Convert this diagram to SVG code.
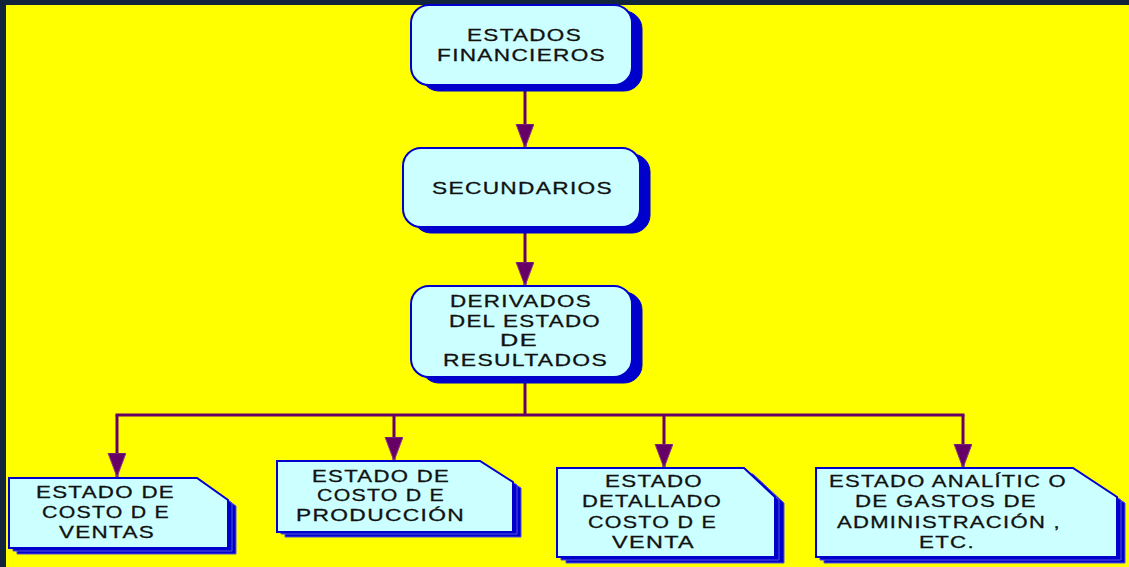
<svg xmlns="http://www.w3.org/2000/svg" width="1129" height="567" viewBox="0 0 1129 567">
<defs>
<style>
.bg{fill:#11243c}
.yl{fill:#ffff00}
.box{fill:#ccffff;stroke:#0000cc;stroke-width:2}
.sh{fill:#0000cc;stroke:#0000cc;stroke-width:1}
.sh2{fill:#0000cc;stroke:#5555dd;stroke-width:1}
.t{font-family:"Liberation Sans",Arial,sans-serif;font-size:17px;fill:#111;stroke:#111;stroke-width:0.3;text-anchor:middle;letter-spacing:1px}
.c{fill:none;stroke:#660066;stroke-width:3}
</style>
<marker id="ah" markerUnits="userSpaceOnUse" markerWidth="26" markerHeight="20" refX="24" refY="9" orient="auto" viewBox="0 0 26 20">
<path d="M0,0 L24,9 L0,18 z" fill="#660066" stroke="#8a3a8a" stroke-width="1"/>
</marker>
</defs>
<rect class="bg" x="0" y="0" width="1129" height="567"/>
<rect class="yl" x="6" y="5" width="1123" height="562"/>

<g id="connectors">
<line class="c" x1="525" y1="88" x2="525" y2="148" marker-end="url(#ah)"/>
<line class="c" x1="525" y1="230" x2="525" y2="286" marker-end="url(#ah)"/>
<line class="c" x1="525" y1="380" x2="525" y2="415"/>
<line class="c" x1="115.5" y1="415" x2="964.5" y2="415"/>
<line class="c" x1="117" y1="415" x2="117" y2="477" marker-end="url(#ah)"/>
<line class="c" x1="394" y1="415" x2="394" y2="461" marker-end="url(#ah)"/>
<line class="c" x1="664" y1="415" x2="664" y2="468" marker-end="url(#ah)"/>
<line class="c" x1="963" y1="415" x2="963" y2="468" marker-end="url(#ah)"/>
</g>

<g id="n1">
<rect class="sh" x="421" y="11" width="221" height="80" rx="18"/>
<rect class="box" x="411" y="5" width="221" height="80" rx="18"/>
<text class="t" x="524.5" y="41" textLength="115" lengthAdjust="spacingAndGlyphs">ESTADOS</text>
<text class="t" x="521.5" y="61" textLength="169" lengthAdjust="spacingAndGlyphs">FINANCIEROS</text>
</g>

<g id="n2">
<rect class="sh" x="413" y="154" width="237" height="79" rx="18"/>
<rect class="box" x="403" y="148" width="237" height="79" rx="18"/>
<text class="t" x="522.5" y="194" textLength="181" lengthAdjust="spacingAndGlyphs">SECUNDARIOS</text>
</g>

<g id="n3">
<rect class="sh" x="421" y="292" width="221" height="91" rx="18"/>
<rect class="box" x="411" y="286" width="221" height="91" rx="18"/>
<text class="t" x="521" y="307" textLength="142" lengthAdjust="spacingAndGlyphs">DERIVADOS</text>
<text class="t" x="525" y="327" textLength="152" lengthAdjust="spacingAndGlyphs">DEL ESTADO</text>
<text class="t" x="519" y="346" textLength="38" lengthAdjust="spacingAndGlyphs">DE</text>
<text class="t" x="525.5" y="366" textLength="165" lengthAdjust="spacingAndGlyphs">RESULTADOS</text>
</g>

<g id="n4">
<polygon class="sh2" points="17,484 205,484 236,506 236,554 17,554"/>
<polygon class="sh2" points="13,481 201,481 232,503 232,551 13,551"/>
<polygon class="box" points="9,478 197,478 228,500 228,548 9,548"/>
<text class="t" x="105.5" y="498" textLength="139" lengthAdjust="spacingAndGlyphs">ESTADO DE</text>
<text class="t" x="106" y="518" textLength="128" lengthAdjust="spacingAndGlyphs">COSTO D E</text>
<text class="t" x="107" y="538" textLength="96" lengthAdjust="spacingAndGlyphs">VENTAS</text>
</g>

<g id="n5">
<polygon class="sh2" points="285,467 488,467 521,488 521,537 285,537"/>
<polygon class="sh2" points="281,464 484,464 517,485 517,534 281,534"/>
<polygon class="box" points="277,461 480,461 513,482 513,532 277,532"/>
<text class="t" x="381" y="482" textLength="138" lengthAdjust="spacingAndGlyphs">ESTADO DE</text>
<text class="t" x="381" y="501" textLength="128" lengthAdjust="spacingAndGlyphs">COSTO D E</text>
<text class="t" x="380.5" y="521" textLength="169" lengthAdjust="spacingAndGlyphs">PRODUCCIÓN</text>
</g>

<g id="n6">
<polygon class="sh2" points="566,474 753,474 784,503 784,563 566,563"/>
<polygon class="sh2" points="561,471 748,471 779,500 779,560 561,560"/>
<polygon class="box" points="557,468 744,468 775,497 775,557 557,557"/>
<text class="t" x="654" y="487" textLength="98" lengthAdjust="spacingAndGlyphs">ESTADO</text>
<text class="t" x="652" y="507" textLength="140" lengthAdjust="spacingAndGlyphs">DETALLADO</text>
<text class="t" x="652.5" y="528" textLength="129" lengthAdjust="spacingAndGlyphs">COSTO D E</text>
<text class="t" x="653.5" y="548" textLength="83" lengthAdjust="spacingAndGlyphs">VENTA</text>
</g>

<g id="n7">
<polygon class="sh2" points="824,474 1081,474 1125,503 1125,563 824,563"/>
<polygon class="sh2" points="820,471 1077,471 1121,500 1121,560 820,560"/>
<polygon class="box" points="816,468 1073,468 1117,497 1117,557 816,557"/>
<text class="t" x="948" y="487" textLength="238" lengthAdjust="spacingAndGlyphs">ESTADO ANALÍTIC O</text>
<text class="t" x="946" y="507" textLength="182" lengthAdjust="spacingAndGlyphs">DE GASTOS DE</text>
<text class="t" x="949" y="528" textLength="224" lengthAdjust="spacingAndGlyphs">ADMINISTRACIÓN ,</text>
<text class="t" x="947" y="548" textLength="56" lengthAdjust="spacingAndGlyphs">ETC.</text>
</g>
</svg>
